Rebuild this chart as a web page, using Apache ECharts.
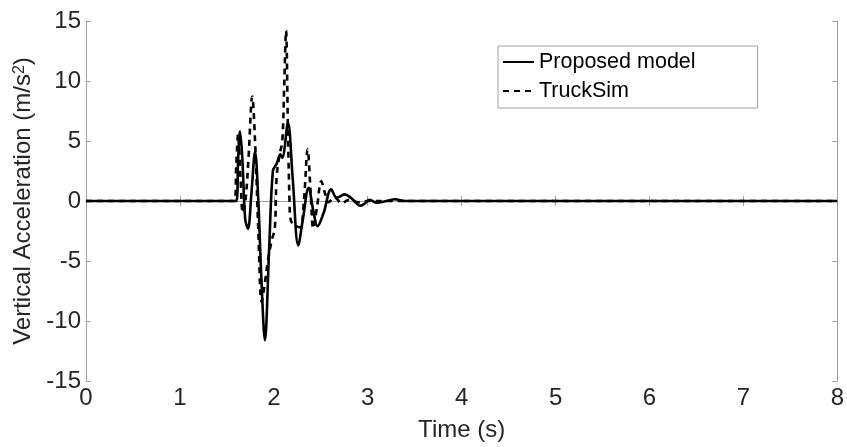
<!DOCTYPE html>
<html lang="en">
<head>
    <meta charset="UTF-8">
    <title>Vertical Acceleration</title>
    <script src="https://cdn.jsdelivr.net/npm/echarts@6/dist/echarts.min.js"></script>
    <style type="text/css">
        body { margin: 0px; padding: 0px; background: #fff; }
        #chart { width: 847px; height: 447px; }
    </style>
</head>
<body>
    <div id="chart"></div>
</body>
<script>
    // Proposed model (solid)
    const timeProposed = [0, 1.6, 1.62, 1.64, 1.665, 1.695, 1.725, 1.76, 1.80, 1.835, 1.865, 1.905, 1.95, 1.99, 2.03, 2.07, 2.09, 2.15, 2.20, 2.26, 2.31, 2.37, 2.42, 2.465, 2.53, 2.61, 2.67, 2.71, 2.755, 2.82, 2.87, 2.92, 2.97, 3.02, 3.09, 3.2, 3.29, 3.4, 3.6, 8];
    const accProposed  = [0, 0, 3.5, 5.8, 3.5, -1.5, -2.3, 0.5, 4.1, 0, -6, -11.6, -4, 2.5, 3.1, 3.9, 3.6, 6.5, 2.0, -3.7, -1.5, 1.1, -0.8, -2.1, -1, 0.97, 0.27, 0.4, 0.55, 0.27, -0.1, -0.4, -0.2, 0.1, -0.14, 0, 0.14, 0, 0, 0];

    // TruckSim (dashed)
    const timeTruckSim = [0, 1.58, 1.60, 1.62, 1.645, 1.67, 1.70, 1.73, 1.77, 1.80, 1.835, 1.87, 1.905, 1.94, 1.98, 2.01, 2.03, 2.06, 2.09, 2.11, 2.13, 2.15, 2.167, 2.18, 2.22, 2.28, 2.32, 2.36, 2.39, 2.42, 2.46, 2.505, 2.55, 2.58, 2.65, 2.72, 2.8, 2.9, 3.0, 8];
    const accTruckSim  = [0, 0, 3, 5.6, 2, -1.0, 0.2, 3.5, 8.7, 5, -2.5, -8.4, -6.8, -4.8, -3.2, -2.3, 2.0, 3.8, 5.0, 9.5, 14.2, 6, 0, -1.6, -2.0, -2.2, 0, 4.3, 1, -2.3, -0.5, 1.65, 0.5, -0.1, 0.3, -0.2, 0.1, -0.1, 0, 0];

    const seriesNames = ['Proposed model', 'TruckSim'];

    const pairs = (t, v) => t.map((x, i) => [x, v[i]]);

    const font = 'Liberation Sans, Arial, sans-serif';
    const gray = '#a0a0a0';
    const textColor = '#262626';

    const chart = echarts.init(document.getElementById('chart'));

    const baseX = {
        type: 'value', min: 0, max: 8, interval: 1,
        axisLine: { show: true, lineStyle: { color: gray, width: 1 } },
        axisTick: { show: true, inside: true, length: 5, lineStyle: { color: gray } },
        splitLine: { show: false }
    };
    const baseY = {
        type: 'value', min: -15, max: 15, interval: 5,
        axisLine: { show: true, onZero: false, lineStyle: { color: gray, width: 1 } },
        axisTick: { show: true, inside: true, length: 5, lineStyle: { color: gray } },
        splitLine: { show: false }
    };

    const option = {
        animation: false,
        backgroundColor: '#fff',
        grid: { left: 86, right: 8, top: 21, bottom: 64 },
        legend: {
            orient: 'vertical',
            left: 498, top: 46,
            data: seriesNames,
            itemWidth: 31, itemHeight: 14, itemGap: 7, itemTextGap: 2,
            padding: [5, 62, 6, 4],
            borderColor: gray, borderWidth: 1,
            backgroundColor: '#fff',
            itemStyle: { opacity: 0 },   // hide the circle, keep the line
            textStyle: { fontFamily: font, fontSize: 21.5, color: '#000' }
        },
        xAxis: [
            Object.assign({}, baseX, {
                position: 'bottom',
                axisLabel: { fontFamily: font, fontSize: 24, color: textColor, margin: 5 },
                name: 'Time (s)', nameLocation: 'middle', nameGap: 37,
                nameTextStyle: { fontFamily: font, fontSize: 24, color: textColor }
            }),
            Object.assign({}, baseX, { position: 'top', axisLabel: { show: false } })
        ],
        yAxis: [
            Object.assign({}, baseY, {
                position: 'left',
                axisLabel: { fontFamily: font, fontSize: 24, color: textColor, margin: 5 },
                name: '{a|Vertical Acceleration (m/s}{s|2}{a|)}',
                nameLocation: 'middle', nameGap: 44,
                nameTextStyle: {
                    fontFamily: font, fontSize: 24, color: textColor,
                    rich: {
                        a: { fontFamily: font, fontSize: 24, color: textColor },
                        s: { fontFamily: font, fontSize: 16, color: textColor, verticalAlign: 'top', padding: [0, 0, 8, 0] }
                    }
                }
            }),
            Object.assign({}, baseY, { position: 'right', axisLabel: { show: false } })
        ],
        series: [
            {
                name: seriesNames[0], type: 'line',
                data: pairs(timeProposed, accProposed),
                symbol: 'none', smooth: 0.35,
                lineStyle: { color: '#000', width: 2.6, type: 'solid' },
                itemStyle: { color: '#000' },
                z: 3
            },
            {
                name: seriesNames[1], type: 'line',
                data: pairs(timeTruckSim, accTruckSim),
                symbol: 'none', smooth: 0.35,
                lineStyle: { color: '#000', width: 2.6, type: [6, 5] },
                itemStyle: { color: '#000' },
                z: 4
            }
        ]
    };

    chart.setOption(option);
</script>
</html>
